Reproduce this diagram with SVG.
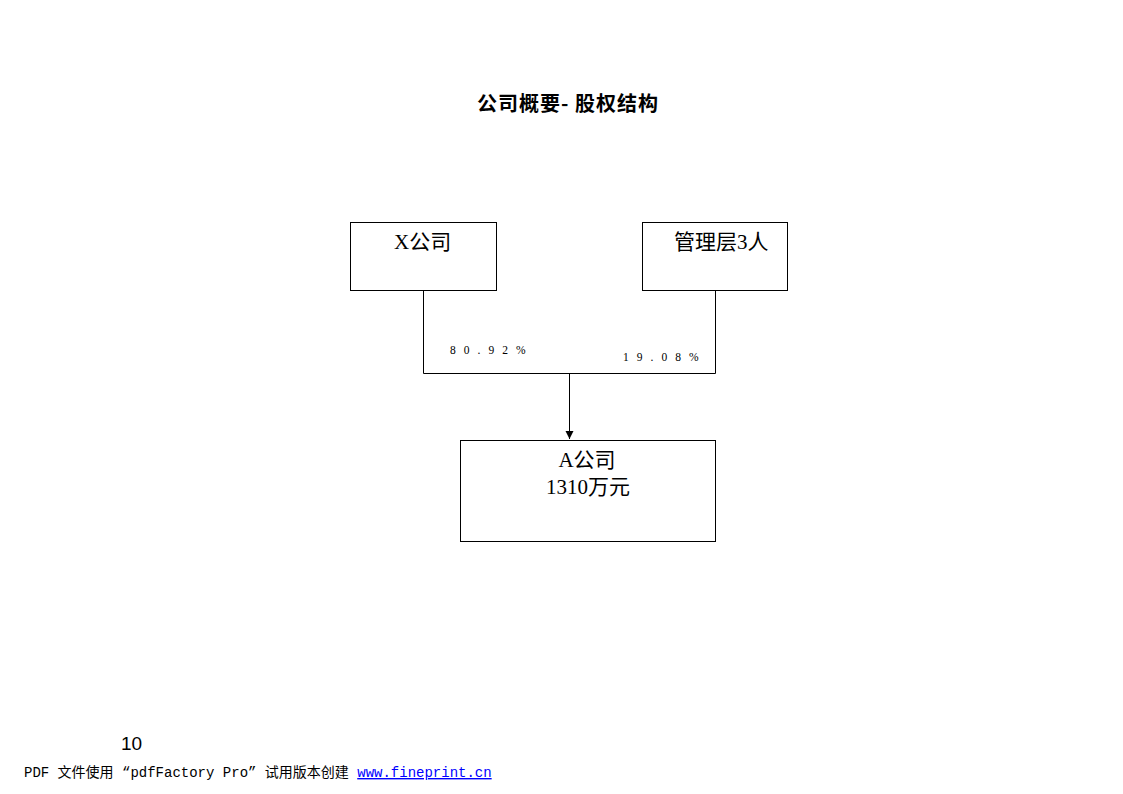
<svg xmlns="http://www.w3.org/2000/svg" width="1123" height="794" viewBox="0 0 1123 794">
<style>
.box{fill:#fff;stroke:#000;stroke-width:1}
.lbl{font-family:"Liberation Serif","Noto Sans CJK SC",serif;font-size:21px;fill:#000}
.pct{font-family:"Liberation Serif","Noto Sans CJK SC",serif;font-size:11.5px;fill:#000;letter-spacing:8px}
.conn{fill:none;stroke:#000;stroke-width:1}
</style>
<defs>
<marker id="arr" markerWidth="10" markerHeight="10" refX="8" refY="4" orient="auto" markerUnits="userSpaceOnUse">
<path d="M0,0 L8,4 L0,8 Z" fill="#000"/>
</marker>
</defs>
<rect width="1123" height="794" fill="#fff"/>
<text x="568" y="111" text-anchor="middle" font-family="'Noto Sans CJK SC',sans-serif" font-size="20" font-weight="bold" letter-spacing="1">公司概要- 股权结构</text>
<g id="connectors">
<polyline class="conn" points="423.5,290 423.5,373.5 715.5,373.5 715.5,290"/>
<line class="conn" x1="569.5" y1="373.5" x2="569.5" y2="439" marker-end="url(#arr)"/>
<text class="pct" x="450" y="354">80.92%</text>
<text class="pct" x="623" y="361">19.08%</text>
</g>
<g id="node-x">
<rect class="box" x="350.5" y="222.5" width="146" height="68"/>
<text class="lbl" x="394" y="249">X公司</text>
</g>
<g id="node-mgmt">
<rect class="box" x="642.5" y="222.5" width="145" height="68"/>
<text class="lbl" x="674" y="249">管理层3人</text>
</g>
<g id="node-a">
<rect class="box" x="460.5" y="440.5" width="255" height="101"/>
<text class="lbl" x="587" y="467" text-anchor="middle">A公司</text>
<text class="lbl" x="588" y="494" text-anchor="middle">1310万元</text>
</g>
<text x="121" y="750" font-family="'Liberation Sans',sans-serif" font-size="19">10</text>
<text x="24" y="777" font-family="'Liberation Mono','Noto Sans CJK SC',monospace" font-size="14">PDF 文件使用 “pdfFactory Pro” 试用版本创建 <tspan fill="#0000ff" text-decoration="underline">www.fineprint.cn</tspan></text>
</svg>
